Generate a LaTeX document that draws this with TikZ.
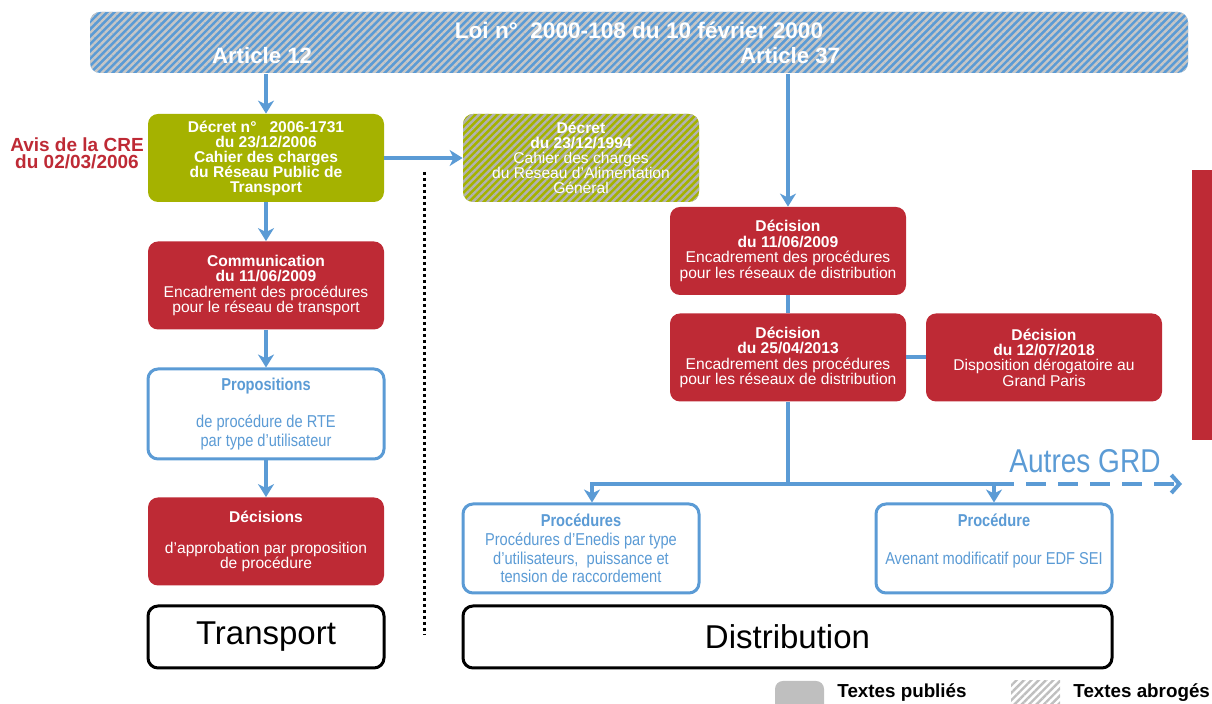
\documentclass[tikz,border=0pt]{standalone}
\usepackage{fontspec}
\setmainfont{Liberation Sans}
\newfontfamily\narrowsf[FakeStretch=0.85]{Liberation Sans}
\usetikzlibrary{arrows.meta,positioning,patterns.meta}

\definecolor{creblue}{RGB}{91,155,213}
\definecolor{crered}{RGB}{190,42,53}
\definecolor{creolive}{RGB}{165,178,0}
\definecolor{legendgray}{RGB}{191,191,191}

\tikzset{
  boxbase/.style={rounded corners=5pt,minimum width=118pt,minimum height=44pt,align=center,inner sep=0pt},
  redbox/.style={boxbase,fill=crered,text=white,font=\fontsize{7.8}{7.7}\selectfont},
  greenbox/.style={boxbase,fill=creolive,text=white,font=\bfseries\fontsize{7.8}{7.5}\selectfont},
  oldbox/.style={boxbase,preaction={fill=creolive},pattern={Lines[angle=45,distance=2.6pt,line width=1.2pt]},
    pattern color=gray!60,text=white,font=\fontsize{7.8}{7.5}\selectfont},
  bluebox/.style={boxbase,minimum height=45pt,draw=creblue,line width=1.5pt,fill=white,text=creblue,
    font=\narrowsf\fontsize{8.6}{9.3}\selectfont},
  sectorbox/.style={rounded corners=5pt,draw=black,line width=1.5pt,minimum height=31pt,inner sep=0pt,
    font=\fontsize{16.5}{18}\selectfont},
  link/.style={creblue,line width=2pt},
  arrowlink/.style={link,-{Stealth[length=6.5pt,width=8pt,inset=2pt]}},
  legendtext/.style={anchor=west,inner sep=0pt,font=\bfseries\fontsize{9.4}{10}\selectfont},
}

\begin{document}
\begin{tikzpicture}[x=0.5pt,y=-0.5pt]
\useasboundingbox (0,0) rectangle (1212,704);

\node[rounded corners=5pt,minimum width=549pt,minimum height=30.5pt,preaction={fill=creblue},
  pattern={Lines[angle=45,distance=2.6pt,line width=1.2pt]},pattern color=gray!45] (banner) at (639,42.5) {};
\node[text=white,font=\bfseries\fontsize{11.3}{12}\selectfont] (loi) at (639,30) {Loi n°~~2000-108 du 10 février 2000};
\node[text=white,font=\bfseries\fontsize{11.1}{12}\selectfont] (art12) at (262,56) {Article 12};
\node[text=white,font=\bfseries\fontsize{11.1}{12}\selectfont] (art37) at (790,56) {Article 37};

\node[greenbox] (green) at (266,158) {Décret n°~~~2006-1731\\du 23/12/2006\\Cahier des charges\\du Réseau Public de\\Transport};
\node[oldbox] (old) at (581,158) {\textbf{Décret}\\\textbf{du 23/12/1994}\\Cahier des charges\\du Réseau d’Alimentation\\Général};
\node[text=crered,align=center,font=\bfseries\fontsize{9.5}{8.5}\selectfont] (avis) at (77,153) {Avis de la CRE\\du 02/03/2006};

\node[redbox] (comm) at (266,285.5) {\textbf{Communication}\\\textbf{du 11/06/2009}\\Encadrement des procédures\\pour le réseau de transport};
\node[bluebox] (prop) at (266,414) {\textbf{Propositions}\\ \\de procédure de RTE\\par type d’utilisateur};
\node[redbox] (decis) at (266,541.5) {\textbf{Décisions}\\ \\d’approbation par proposition\\de procédure};
\node[sectorbox,minimum width=118pt] (transp) at (266,637) {Transport};

\node[redbox] (dec09) at (788,251) {\textbf{Décision}\\\textbf{du 11/06/2009}\\Encadrement des procédures\\pour les réseaux de distribution};
\node[redbox] (dec13) at (788,357.5) {\textbf{Décision}\\\textbf{du 25/04/2013}\\Encadrement des procédures\\pour les réseaux de distribution};
\node[redbox] (dec18) at (1044,357.5) {\textbf{Décision}\\\textbf{du 12/07/2018}\\Disposition dérogatoire au\\Grand Paris};

\node[bluebox,minimum height=44.5pt] (enedis) at (581,548.5) {\textbf{Procédures}\\Procédures d’Enedis par type\\d’utilisateurs,~ puissance et\\tension de raccordement};
\node[bluebox,minimum height=44.5pt] (edfsei) at (994,548.5) {\textbf{Procédure}\\ \\Avenant modificatif pour EDF SEI\\ };
\node[sectorbox,minimum width=324.5pt] (distrib) at (787.5,637) {Distribution};
\node[text=creblue,font=\narrowsf\fontsize{16.5}{18}\selectfont] (autres) at (1085,461) {Autres GRD};

\draw[arrowlink] (green.north |- banner.south) -- (green.north);
\draw[arrowlink] (dec09.north |- banner.south) -- (dec09.north);
\draw[arrowlink] (green.east) -- (old.west);
\draw[arrowlink] (green) -- (comm);
\draw[arrowlink] (comm) -- (prop);
\draw[arrowlink] (prop) -- (decis);
\draw[link] (dec09) -- (dec13);
\draw[link] (dec13) -- (dec18);

\coordinate (split) at (788,484);
\coordinate (grdend) at (1182,484);
\draw[link] (dec13.south) -- (split);
\draw[arrowlink] (split) -| ([xshift=5.5pt]enedis.north);
\draw[arrowlink] (split) -| (edfsei.north);
\draw[link,dash pattern=on 10pt off 6pt,-{Straight Barb[length=4pt,width=9pt]}] (edfsei.north |- split) -- (grdend);

\coordinate (sepT) at (424,172);
\coordinate (sepB) at (424,635);
\draw[line width=1.5pt,dash pattern=on 1.5pt off 1.5pt] (sepT) -- (sepB);

\fill[crered] (1192,170) rectangle (1212,440);

\fill[legendgray,rounded corners=4pt] (775,681) rectangle (824,716);
\node[legendtext] (pub) at (837,693) {Textes publiés};
\fill[pattern={Lines[angle=45,distance=2.6pt,line width=1.2pt]},pattern color=legendgray] (1011,681) rectangle (1060,716);
\node[legendtext] (abr) at (1073,693) {Textes abrogés};
\end{tikzpicture}
\end{document}
